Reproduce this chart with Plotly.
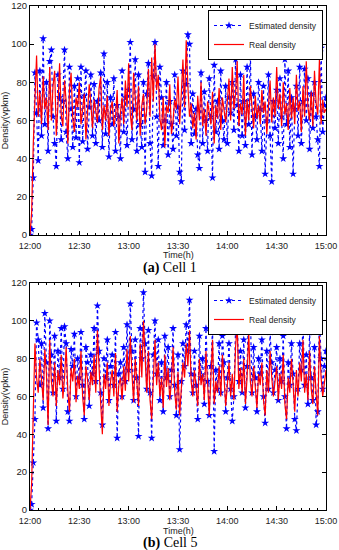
import plotly.graph_objects as go

W, H = 339, 550

minutes = list(range(0, 181))
tick_minutes = [0, 30, 60, 90, 120, 150, 180]
tick_labels = ["12:00", "12:30", "13:00", "13:30", "14:00", "14:30", "15:00"]
y_ticks = [0, 20, 40, 60, 80, 100, 120]

# Cell 1
real_c1 = [0, 12, 48, 70, 94, 62, 75, 58, 83, 66,
           72, 55, 88, 60, 78, 86, 52, 68, 90, 63,
           57, 81, 70, 48, 76, 85, 61, 54, 72, 67,
           80, 58, 66, 74, 50, 62, 79, 69, 56, 71,
           64, 59, 77, 83, 55, 68, 60, 73, 52, 66,
           70, 57, 62, 76, 48, 64, 72, 58, 81, 67,
           90, 63, 55, 85, 72, 60, 78, 52, 68, 74,
           58, 66, 87, 62, 93, 70, 100, 76, 84, 61,
           55, 72, 46, 68, 64, 79, 53, 60, 71, 66,
           83, 58, 74, 92, 67, 102, 78, 62, 69, 56,
           64, 50, 73, 60, 80, 57, 66, 52, 70, 63,
           58, 75, 48, 68, 61, 77, 55, 72, 64, 59,
           70, 82, 60, 88, 66, 74, 91, 57, 69, 63,
           84, 52, 71, 60, 78, 65, 56, 73, 61, 68,
           58, 76, 64, 70, 53, 67, 81, 59, 72, 62,
           88, 66, 74, 57, 80, 63, 69, 55, 77, 61,
           72, 58, 84, 65, 70, 54, 78, 62, 91, 67,
           60, 75, 57, 86, 69, 63, 92, 58, 71, 64,
           66]
est_c1 = [0, 3, 30, 85, 64, 39, 86, 52, 103, 58,
          80, 44, 91, 97, 62, 48, 36, 84, 72, 50,
          70, 97, 54, 40, 88, 66, 46, 78, 51, 82,
          38, 88, 49, 73, 86, 45, 67, 84, 52, 79,
          48, 70, 60, 85, 46, 95, 53, 80, 41, 72,
          58, 82, 44, 68, 62, 40, 86, 54, 72, 47,
          76, 101, 50, 66, 92, 44, 84, 58, 46, 80,
          33, 74, 90, 48, 31, 83, 101, 62, 36, 88,
          72, 47, 60, 80, 42, 70, 58, 45, 84, 52,
          67, 33, 28, 86, 55, 79, 105, 100, 48, 74,
          53, 66, 42, 35, 85, 48, 75, 60, 44, 82,
          62, 30, 89, 54, 70, 45, 86, 60, 50, 78,
          48, 72, 64, 80, 55, 92, 68, 44, 84, 52,
          70, 47, 88, 58, 96, 42, 74, 62, 50, 80,
          66, 44, 78, 32, 60, 84, 52, 28, 70, 56,
          76, 48, 82, 62, 40, 92, 58, 86, 46, 72,
          32, 66, 78, 52, 88, 48, 70, 87, 60, 82,
          45, 74, 56, 80, 62, 50, 36, 98, 54, 68,
          72]

# Cell 5
real_c5 = [0, 14, 52, 88, 70, 62, 80, 66, 58, 85,
           72, 45, 90, 68, 60, 78, 55, 74, 66, 82,
           59, 70, 86, 63, 52, 75, 68, 80, 57, 71,
           64, 84, 60, 50, 76, 69, 58, 73, 66, 82,
           62, 95, 70, 56, 40, 72, 64, 78, 55, 68,
           74, 60, 83, 52, 66, 70, 58, 76, 63, 85,
           68, 92, 72, 57, 80, 64, 55, 88, 70, 100,
           76, 62, 84, 58, 48, 72, 90, 66, 78, 60,
           70, 54, 82, 65, 75, 58, 68, 86, 62, 53,
           73, 50, 64, 78, 70, 88, 76, 95, 68, 60,
           74, 62, 55, 80, 66, 72, 58, 84, 64, 50,
           70, 90, 56, 68, 62, 76, 60, 82, 70, 55,
           66, 78, 60, 72, 58, 86, 98, 64, 75, 62,
           80, 56, 70, 94, 68, 60, 76, 64, 54, 72,
           66, 78, 58, 50, 74, 62, 84, 70, 60, 68,
           76, 58, 72, 64, 82, 56, 48, 70, 62, 80,
           66, 52, 74, 60, 78, 68, 90, 62, 72, 58,
           84, 64, 56, 76, 62, 50, 92, 70, 60, 68,
           74]
est_c5 = [0, 3, 25, 48, 99, 90, 66, 88, 54, 104,
          78, 43, 100, 82, 62, 92, 47, 84, 70, 96,
          64, 97, 88, 52, 47, 85, 76, 93, 60, 80,
          70, 94, 66, 48, 86, 78, 55, 82, 72, 96,
          68, 108, 84, 62, 45, 80, 70, 90, 58, 76,
          82, 66, 94, 38, 72, 78, 60, 86, 68, 98,
          74, 109, 84, 58, 90, 70, 39, 96, 80, 115,
          88, 64, 95, 62, 38, 82, 100, 72, 90, 58,
          78, 52, 92, 70, 86, 60, 74, 96, 66, 50,
          82, 32, 68, 88, 76, 98, 84, 111, 72, 62,
          84, 66, 48, 92, 70, 80, 56, 96, 68, 50,
          76, 96, 31, 74, 64, 88, 62, 92, 78, 52,
          70, 88, 64, 47, 60, 96, 102, 68, 84, 62,
          90, 54, 76, 107, 104, 62, 86, 70, 52, 80,
          72, 90, 60, 46, 84, 64, 94, 78, 62, 74,
          86, 58, 80, 68, 92, 60, 43, 78, 66, 88,
          72, 48, 42, 64, 88, 74, 99, 66, 82, 56,
          94, 70, 58, 86, 45, 52, 103, 80, 64, 76,
          84]

BLUE = "#0000FF"
RED = "#FF0000"

fig = go.Figure()

def add_cell(est, real, xa, ya, legend):
    fig.add_trace(go.Scatter(
        x=minutes, y=est, mode="lines+markers", name="Estimated density",
        line=dict(color=BLUE, width=1.2, dash="dot"),
        marker=dict(symbol="star", size=6, color=BLUE),
        xaxis=xa, yaxis=ya, legend=legend))
    fig.add_trace(go.Scatter(
        x=minutes, y=real, mode="lines", name="Real density",
        line=dict(color=RED, width=1.2),
        xaxis=xa, yaxis=ya, legend=legend))

add_cell(est_c1, real_c1, "x", "y", "legend")
add_cell(est_c5, real_c5, "x2", "y2", "legend2")

def px_x(p):
    return p / W

def px_y(p):
    return 1 - p / H

xdom = [px_x(30), px_x(326)]
sans = "Liberation Sans, Arial, sans-serif"
axis_font = dict(family=sans, size=9.5, color="#222")

xcommon = dict(range=[0, 180], tickvals=tick_minutes, ticktext=tick_labels,
               ticks="inside", ticklen=4, showline=True, linecolor="black",
               linewidth=1, mirror="ticks", showgrid=False, zeroline=False,
               tickfont=dict(family=sans, size=9, color="#222"), tickcolor="black",
               automargin=False, ticklabelstandoff=2,
               minor=dict(dtick=5, tick0=0, ticks="inside", ticklen=2, tickcolor="black"),
               domain=xdom)
ycommon = dict(range=[0, 120], tickvals=y_ticks, ticks="inside", ticklen=4,
               showline=True, linecolor="black", linewidth=1, mirror="ticks",
               showgrid=False, zeroline=False, tickfont=axis_font, tickcolor="black",
               automargin=False,
               title=dict(text="Density(vpkm)", font=dict(family=sans, size=9, color="#222"), standoff=4))

leg_common = dict(xanchor="right", yanchor="top",
                  bordercolor="black", borderwidth=1, bgcolor="white",
                  font=dict(family=sans, size=8.5, color="#222"),
                  tracegroupgap=0, itemwidth=30)

fig.update_layout(
    width=W, height=H, margin=dict(l=0, r=0, t=0, b=0, autoexpand=False),
    paper_bgcolor="white", plot_bgcolor="white",
    xaxis=dict(**xcommon, anchor="y"),
    yaxis=dict(**ycommon, domain=[px_y(235), px_y(6)], anchor="x"),
    xaxis2=dict(**xcommon, anchor="y2"),
    yaxis2=dict(**ycommon, domain=[px_y(510), px_y(283)], anchor="x2"),
    legend=dict(x=px_x(323), y=px_y(10), **leg_common),
    legend2=dict(x=px_x(323), y=px_y(285), **leg_common),
    showlegend=True,
)

ann_font = dict(family=sans, size=9, color="#222")
cap_font = dict(family="Liberation Serif, Times New Roman, serif", size=14, color="black")

def add_text(text, xp, yp, font):
    fig.add_annotation(text=text, x=px_x(xp), y=px_y(yp), xref="paper", yref="paper",
                       xanchor="center", yanchor="middle", showarrow=False, font=font)

add_text("Time(h)", 178, 255, ann_font)
add_text("<b>(a)</b> Cell 1", 170, 268, cap_font)
add_text("Time(h)", 178, 530.5, ann_font)
add_text("<b>(b)</b> Cell 5", 170, 543, cap_font)

fig.write_html("out.html", config={"displayModeBar": False},
               post_script="document.body.style.margin='0';document.body.style.padding='0';document.documentElement.style.overflow='hidden';")
